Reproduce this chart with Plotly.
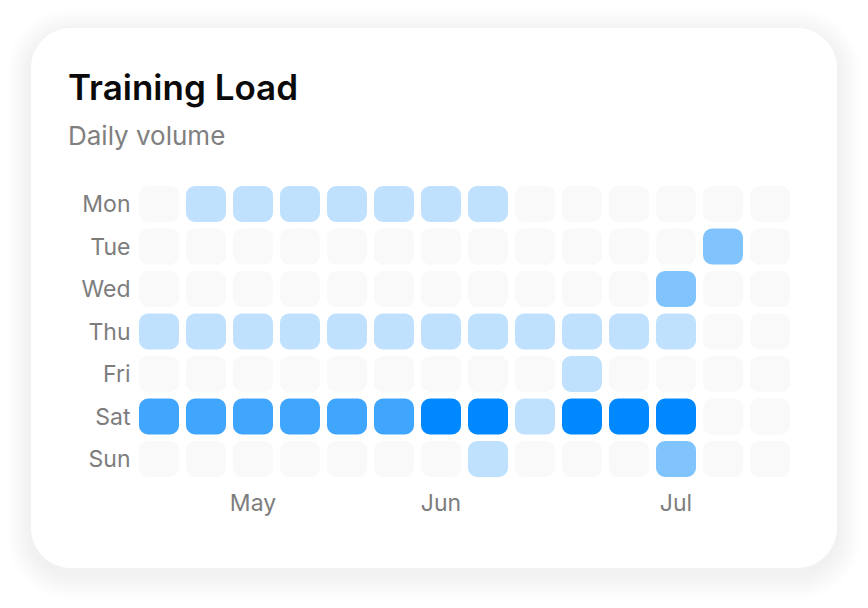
import plotly.graph_objects as go

# ---------------- data ----------------
days = ["Mon", "Tue", "Wed", "Thu", "Fri", "Sat", "Sun"]
weeks = list(range(14))
month_labels = ["May", "Jun", "Jul"]
month_weeks = [2, 6, 11]

mon = [0, 1, 1, 1, 1, 1, 1, 1, 0, 0, 0, 0, 0, 0]
tue = [0, 0, 0, 0, 0, 0, 0, 0, 0, 0, 0, 0, 2, 0]
wed = [0, 0, 0, 0, 0, 0, 0, 0, 0, 0, 0, 2, 0, 0]
thu = [1, 1, 1, 1, 1, 1, 1, 1, 1, 1, 1, 1, 0, 0]
fri = [0, 0, 0, 0, 0, 0, 0, 0, 0, 1, 0, 0, 0, 0]
sat = [3, 3, 3, 3, 3, 3, 4, 4, 1, 4, 4, 4, 0, 0]
sun = [0, 0, 0, 0, 0, 0, 0, 1, 0, 0, 0, 2, 0, 0]
levels = [mon, tue, wed, thu, fri, sat, sun]

level_colors = ["#f9f9f9", "#c0e1fd", "#80c3fd", "#40a5fd", "#0088ff"]

# ---------------- layout constants ----------------
W, H = 868, 608
FONT = "Inter, 'Noto Sans', sans-serif"

def px(x):
    return x / W

def py(y):
    return 1 - y / H

def rrect(x0, y0, x1, y1, r):
    k = 0.45
    pts = [
        f"M {px(x0 + r)} {py(y0)}",
        f"L {px(x1 - r)} {py(y0)}",
        f"C {px(x1 - r * k)} {py(y0)} {px(x1)} {py(y0 + r * k)} {px(x1)} {py(y0 + r)}",
        f"L {px(x1)} {py(y1 - r)}",
        f"C {px(x1)} {py(y1 - r * k)} {px(x1 - r * k)} {py(y1)} {px(x1 - r)} {py(y1)}",
        f"L {px(x0 + r)} {py(y1)}",
        f"C {px(x0 + r * k)} {py(y1)} {px(x0)} {py(y1 - r * k)} {px(x0)} {py(y1 - r)}",
        f"L {px(x0)} {py(y0 + r)}",
        f"C {px(x0)} {py(y0 + r * k)} {px(x0 + r * k)} {py(y0)} {px(x0 + r)} {py(y0)}",
        "Z",
    ]
    return " ".join(pts)

card = (31, 28, 837, 568)
shapes = []
# soft shadow layers
for i in range(14, 0, -1):
    e = i * 1.8
    shapes.append(dict(
        type="path", xref="paper", yref="paper", layer="below",
        path=rrect(card[0] - e, card[1] - e + 6, card[2] + e, card[3] + e + 6, 40 + e),
        fillcolor="rgba(0,0,0,0.0032)", line=dict(width=0),
    ))
shapes.append(dict(
    type="path", xref="paper", yref="paper", layer="below",
    path=rrect(*card, 40), fillcolor="#ffffff", line=dict(width=0),
))

# plot area geometry (pixels)
pitch_x = 47.0
pitch_y = 42.5
x_left = 159 - pitch_x / 2
x_right = 770 + pitch_x / 2
y_top = 204 - pitch_y / 2
y_bot = 459 + pitch_y / 2
cell_w = 40 / pitch_x
cell_h = 36 / pitch_y

fig = go.Figure()
for r, row in enumerate(levels):
    cols = [level_colors[v] for v in row]
    fig.add_trace(go.Bar(
        x=weeks,
        y=[cell_h] * len(weeks),
        base=[r - cell_h / 2] * len(weeks),
        width=cell_w,
        marker=dict(color=cols, line=dict(width=0), cornerradius=9),
        hoverinfo="skip",
        showlegend=False,
    ))

tick_font = dict(size=23, color="#7d7d7d", family=FONT)
fig.update_layout(
    width=W, height=H,
    margin=dict(l=0, r=0, t=0, b=0),
    paper_bgcolor="#ffffff",
    plot_bgcolor="rgba(0,0,0,0)",
    barmode="overlay",
    shapes=shapes,
    font=dict(family=FONT),
    xaxis=dict(
        domain=[px(x_left), px(x_right)],
        range=[-0.5, 13.5],
        tickmode="array", tickvals=month_weeks, ticktext=month_labels,
        showgrid=False, zeroline=False, showline=False, ticks="",
        tickfont=tick_font,
        ticklabelstandoff=7,
        fixedrange=True,
    ),
    yaxis=dict(
        domain=[py(y_bot), py(y_top)],
        range=[6.5, -0.5],
        tickmode="array", tickvals=list(range(7)), ticktext=days,
        showgrid=False, zeroline=False, showline=False, ticks="",
        tickfont=tick_font,
        ticklabelstandoff=4,
        fixedrange=True,
    ),
    annotations=[
        dict(text="Training Load", x=px(66), y=py(87), xref="paper", yref="paper",
             xanchor="left", yanchor="middle", showarrow=False,
             font=dict(size=35, color="#0a0a0a", family=FONT, weight=600)),
        dict(text="Daily volume", x=px(66), y=py(135), xref="paper", yref="paper",
             xanchor="left", yanchor="middle", showarrow=False,
             font=dict(size=26, color="#808080", family=FONT)),
    ],
)

fig.write_html("out.html")
